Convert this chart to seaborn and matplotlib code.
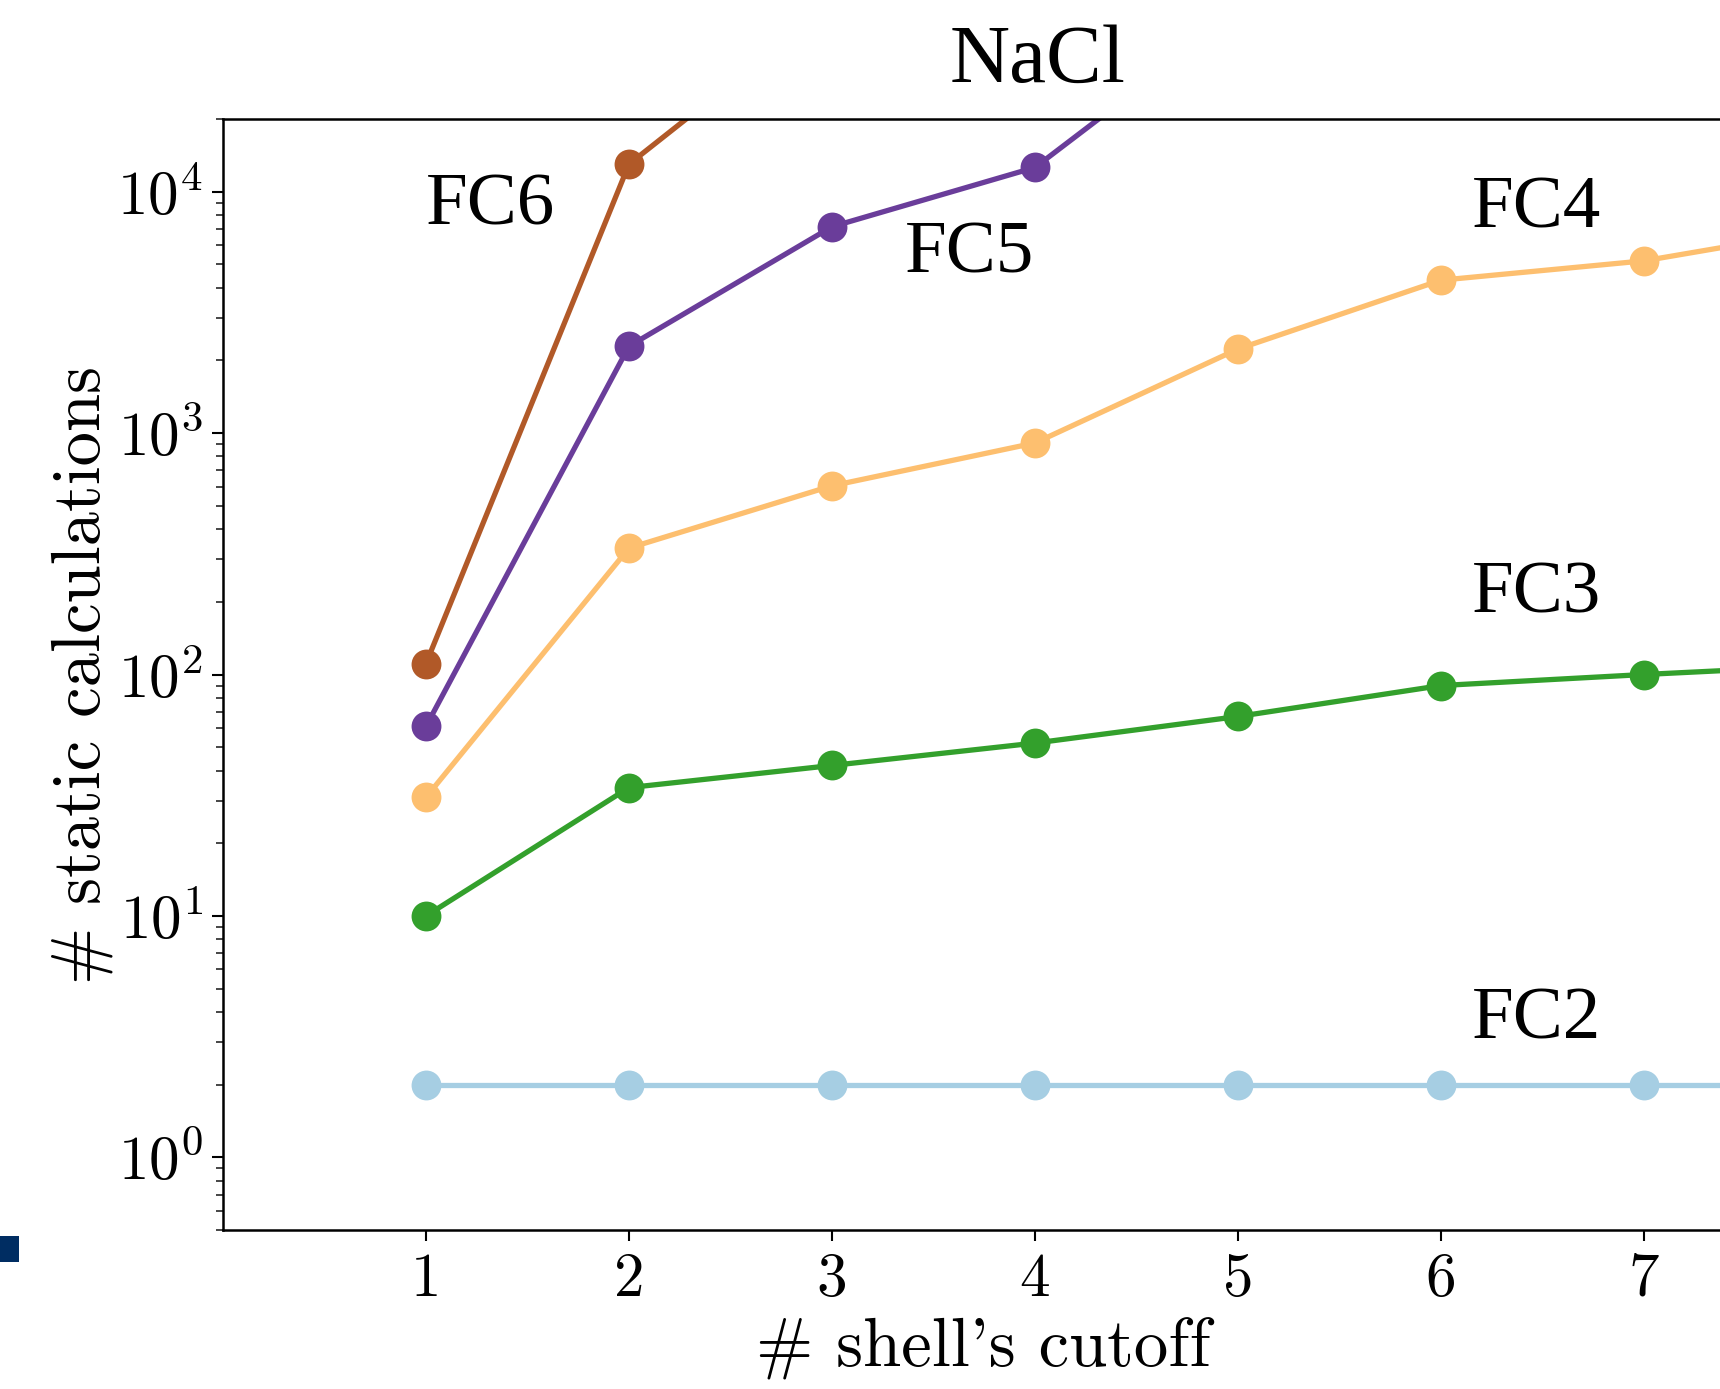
import numpy as np
import pandas as pd
import matplotlib
matplotlib.use("Agg")
import matplotlib.pyplot as plt
from matplotlib.patches import Rectangle
from matplotlib.ticker import LogLocator, NullFormatter
import seaborn as sns

# shell cutoff values and number of static calculations per force-constant order
shells = [1, 2, 3, 4, 5, 6, 7, 8]
fc2 = [2, 2, 2, 2, 2, 2, 2, 2]
fc3 = [10, 34, 42, 52, 67, 90, 100, 110]
fc4 = [31, 334, 605, 910, 2230, 4300, 5170, 7200]
fc5 = [61, 2290, 7160, 12600, 55000]
fc6 = [111, 13000, 60000]

series_names = ["FC2", "FC3", "FC4", "FC5", "FC6"]
series_values = [fc2, fc3, fc4, fc5, fc6]
colors = ["#a6cee3", "#33a02c", "#fdbf6f", "#6a3d9a", "#b15928"]

rows = []
for name, vals in zip(series_names, series_values):
    for s, v in zip(shells, vals):
        rows.append({"shell": s, "calcs": v, "order": name})
df = pd.DataFrame(rows)

sns.set_style("ticks")
plt.rcParams.update({
    "font.family": ["cmr10"],
    "mathtext.fontset": "cm",
    "axes.formatter.use_mathtext": True,
    "axes.unicode_minus": False,
})

W, H = 1720, 1389
fig = plt.figure(figsize=(W / 100, H / 100), dpi=100)

ax_left, ax_top, ax_bottom = 223, 119, 1230
unit = 203
ax = fig.add_axes([ax_left / W, (H - ax_bottom) / H,
                   8 * unit / W, (ax_bottom - ax_top) / H])

for name, c in zip(series_names, colors):
    sub = df[df["order"] == name]
    sns.lineplot(data=sub, x="shell", y="calcs", ax=ax, color=c,
                 marker="o", markersize=21.5, markeredgewidth=0,
                 linewidth=3.8, legend=False)

ax.set_yscale("log")
ax.set_xlim(0, 8)
ax.set_ylim(0.5, 2e4)

ax.set_xticks([1, 2, 3, 4, 5, 6, 7])
ax.set_xticklabels(["1", "2", "3", "4", "5", "6", "7"])
ax.yaxis.set_major_locator(LogLocator(base=10, numticks=10))
ax.yaxis.set_minor_locator(LogLocator(base=10, subs=np.arange(2, 10), numticks=20))
ax.yaxis.set_minor_formatter(NullFormatter())

for side in ["left", "bottom", "top", "right"]:
    ax.spines[side].set_linewidth(1.8)
    ax.spines[side].set_color("black")
ax.tick_params(axis="both", which="major", direction="out", length=8,
               width=1.5, labelsize=44, color="black", labelcolor="black")
ax.tick_params(axis="y", which="major", pad=6)
ax.tick_params(axis="x", which="major", pad=8)
ax.tick_params(axis="y", which="minor", direction="out", length=5, width=1.2)
ax.tick_params(top=False, right=False)

ax.set_xlabel("# shell's cutoff", fontsize=49.5, color="black")
ax.set_ylabel("# static calculations", fontsize=49.5, color="black")
ax.xaxis.set_label_coords((983 - ax_left) / (8 * unit), -(1318 - ax_bottom) / (ax_bottom - ax_top))
ax.yaxis.set_label_coords((113 - ax_left) / (8 * unit), 0.5)

# series labels
label_font = dict(family=["Liberation Serif"], fontsize=54, color="black",
                  ha="left", va="baseline")
ax.text(1.0, 7310, "FC6", **label_font)
ax.text(3.36, 4620, "FC5", **label_font)
ax.text(6.15, 7110, "FC4", **label_font)
ax.text(6.15, 180, "FC3", **label_font)
ax.text(6.15, 3.1, "FC2", **label_font)

fig.text(1038 / W, 1 - 82 / H, "NaCl", family=["Liberation Serif"],
         fontsize=60, ha="center", va="baseline", color="black")

fig.patches.append(Rectangle((0, 1 - 1262 / H), 19 / W, 26 / H,
                             transform=fig.transFigure, facecolor="#002d62",
                             edgecolor="none"))

fig.savefig("out.png", dpi=100)
